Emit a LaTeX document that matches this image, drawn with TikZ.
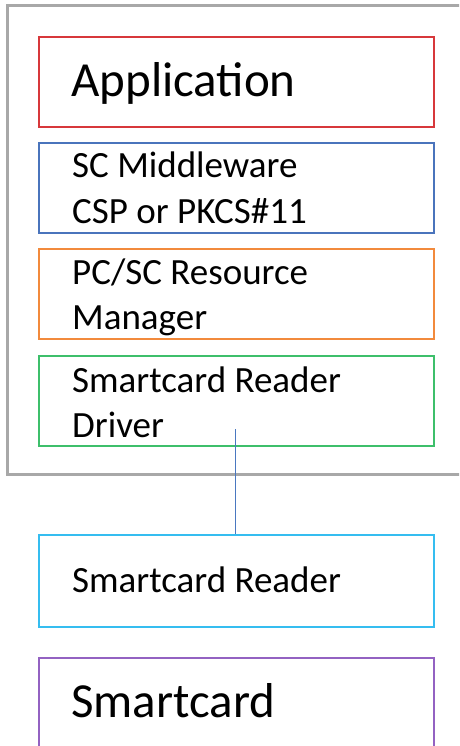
\documentclass[tikz,border=0pt]{standalone}
\usepackage{fontspec}
\setmainfont{Carlito}
\definecolor{cred}{HTML}{D7383B}
\definecolor{cblue}{HTML}{4A74BC}
\definecolor{corange}{HTML}{F28A3C}
\definecolor{cgreen}{HTML}{3DBF6B}
\definecolor{ccyan}{HTML}{35BDF0}
\definecolor{cpurple}{HTML}{9362C2}
\definecolor{cgray}{HTML}{A8A8A8}
\definecolor{cline}{HTML}{4A78C0}
\tikzset{
  layer/.style={draw=#1, line width=2pt, minimum width=395pt, minimum height=90pt, inner sep=0pt, fill=none},
  hostbox/.style={draw=cgray, line width=3pt, minimum width=467pt, minimum height=468pt, inner sep=0pt},
  bigtxt/.style={anchor=base west, inner sep=0pt, font=\fontsize{49}{58}\selectfont},
  smalltxt/.style={anchor=base west, inner sep=0pt, font=\fontsize{37}{45.5}\selectfont},
  link/.style={draw=cline, line width=1.5pt}
}
\begin{document}
\begin{tikzpicture}[x=1pt,y=-1pt]
\useasboundingbox (0,0) rectangle (459,746);
\clip (0,0) rectangle (459,746);
\fill[white] (0,0) rectangle (459,746);
\node[hostbox] (host) at (241,240) {};
\node[layer=cred] (app) at (236.5,82) {};
\node[layer=cblue] (mid) at (236.5,188) {};
\node[layer=corange] (pcsc) at (236.5,294) {};
\node[layer=cgreen] (drv) at (236.5,400.5) {};
\node[layer=ccyan, minimum height=92pt] (reader) at (236.5,581) {};
\node[layer=cpurple, minimum height=102pt] (card) at (236.5,709) {};
\node[bigtxt] (tapp) at (71,97) {Application};
\node[smalltxt] (tmid) at (72,178) {\begin{tabular}[t]{@{}l@{}}SC Middleware\\CSP or PKCS\#11\end{tabular}};
\node[smalltxt] (tpcsc) at (72,284) {\begin{tabular}[t]{@{}l@{}}PC/SC Resource\\Manager\end{tabular}};
\node[smalltxt] (tdrv) at (72,392) {\begin{tabular}[t]{@{}l@{}}Smartcard Reader\\Driver\end{tabular}};
\node[smalltxt] (treader) at (72,592) {Smartcard Reader};
\node[bigtxt] (tcard) at (71,717) {Smartcard};
\coordinate (drvpt) at (235.5,429);
\draw[link] (drvpt) -- (drvpt |- reader.north);
\end{tikzpicture}
\end{document}
